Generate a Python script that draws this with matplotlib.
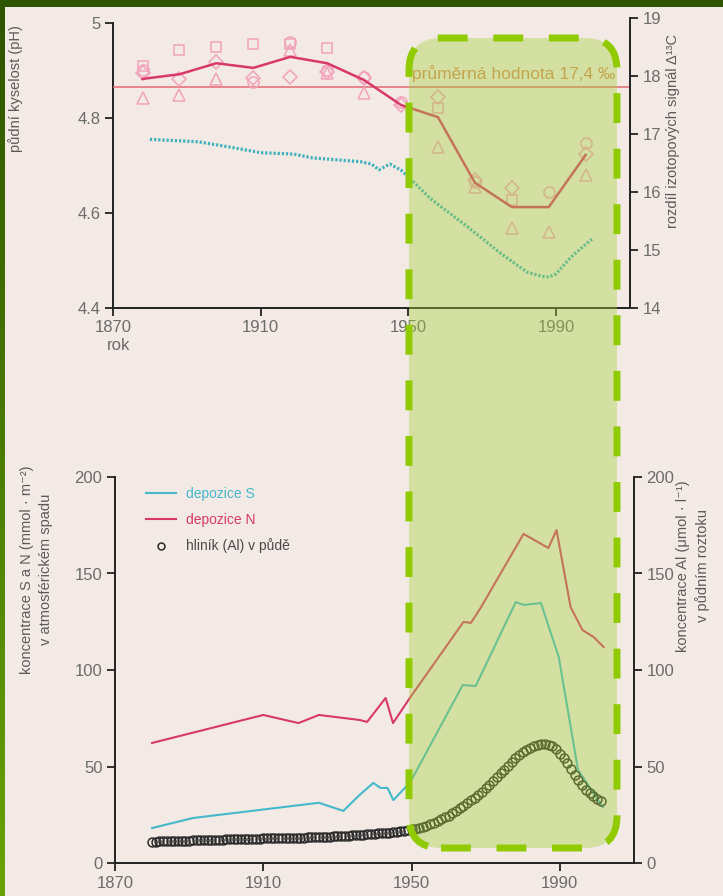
import numpy as np
import matplotlib
matplotlib.use("Agg")
import matplotlib.pyplot as plt
from matplotlib.patches import FancyBboxPatch, Rectangle
from matplotlib.colors import LinearSegmentedColormap

plt.rcParams['font.family'] = ['Liberation Sans', 'DejaVu Sans']

# ---------------- data: top panel ----------------
iso_years = [1878, 1888, 1898, 1908, 1918, 1928, 1938, 1948, 1958, 1968, 1978, 1988, 1998]
iso_mean = [17.95, 18.03, 18.22, 18.14, 18.33, 18.22, 17.93, 17.50, 17.29, 16.16, 15.74, 15.74, 16.64]
nan = float('nan')
iso_square = [18.17, 18.45, 18.50, 18.55, 18.55, 18.48, nan, nan, 17.45, nan, 15.86, nan, nan]
iso_diamond = [18.05, 17.95, 18.24, 17.97, 17.98, 18.07, 17.97, 17.50, 17.64, 16.21, 16.07, nan, 16.66]
iso_triangle = [17.62, 17.67, 17.95, nan, 18.45, 18.05, 17.71, nan, 16.78, 16.09, 15.38, 15.31, 16.29]
iso_circle = [18.10, nan, nan, 17.90, 18.59, 18.10, 17.98, 17.55, nan, 16.17, nan, 16.00, 16.84]
iso_average = 17.81
iso_avg_label = "průměrná hodnota 17,4 ‰"

ph_years = [1880, 1893, 1900, 1910, 1919, 1924, 1937, 1940, 1942, 1945, 1948, 1950,
            1956, 1966, 1975, 1982, 1986, 1988, 1990, 1994, 2000]
ph_values = [4.755, 4.750, 4.741, 4.727, 4.724, 4.716, 4.708, 4.703, 4.691, 4.703, 4.690, 4.676,
             4.630, 4.571, 4.515, 4.476, 4.467, 4.465, 4.472, 4.507, 4.547]

# ---------------- data: bottom panel ----------------
n_years = [1880, 1910, 1919.5, 1925, 1936, 1938, 1943, 1945, 1949.7, 1964, 1966, 1968.6,
           1980.2, 1986.9, 1989.1, 1992.9, 1996.1, 1999.1, 2001.8]
n_values = [62.2, 76.7, 72.5, 76.7, 74.1, 73.1, 85.5, 72.5, 86.0, 124.9, 124.4, 132.1,
            170.5, 163.2, 172.5, 132.6, 120.7, 117.1, 111.9]

s_years = [1880, 1891, 1925, 1931.6, 1936, 1939.7, 1941.6, 1943.5, 1945.1, 1949.7, 1963.8,
           1967.3, 1978.1, 1980.3, 1984.9, 1989.7, 1994.9, 2001.6]
s_values = [18.1, 23.3, 31.2, 27.0, 35.3, 41.5, 38.9, 38.9, 32.6, 42.0, 92.2,
            91.7, 135.2, 133.7, 134.7, 106.7, 48.2, 29.0]

al_years = list(range(1880, 2002))
al_values = [
    11.1, 11.1, 11.2, 11.2, 11.3, 11.3, 11.4, 11.4, 11.5, 11.5,
    11.6, 11.7, 11.7, 11.8, 11.8, 11.9, 12.0, 12.0, 12.1, 12.1,
    12.2, 12.2, 12.3, 12.3, 12.4, 12.4, 12.5, 12.5, 12.6, 12.6,
    12.7, 12.7, 12.8, 12.8, 12.9, 12.9, 13.0, 13.0, 13.1, 13.1,
    13.2, 13.2, 13.3, 13.4, 13.4, 13.5, 13.6, 13.6, 13.7, 13.8,
    13.9, 14.0, 14.1, 14.2, 14.3, 14.4, 14.6, 14.7, 14.9, 15.0,
    15.2, 15.3, 15.5, 15.6, 15.8, 16.0, 16.2, 16.4, 16.7, 17.0,
    17.4, 17.8, 18.3, 18.8, 19.4, 20.1, 20.9, 21.8, 22.8, 23.7,
    24.6, 25.8, 27.0, 28.3, 29.6, 31.0, 32.4, 33.9, 35.4, 37.0,
    38.7, 40.5, 42.4, 44.4, 46.4, 48.4, 50.4, 52.4, 54.3, 56.0,
    57.5, 58.8, 59.8, 60.6, 61.2, 61.5, 61.5, 61.2, 60.5, 59.3,
    56.5, 54.3, 51.6, 48.7, 45.7, 42.8, 40.2, 38.0, 36.2, 34.7,
    33.4, 32.3,
]

x_ticks = [1870, 1910, 1950, 1990]
ph_ticks = [4.4, 4.6, 4.8, 5.0]
ph_ticklabels = ["4.4", "4.6", "4.8", "5"]
iso_ticks = [14, 15, 16, 17, 18, 19]
conc_ticks = [0, 50, 100, 150, 200]

# ---------------- styling ----------------
W, H = 723, 896
BG = '#f3eae5'
TICKC = '#6b6b6b'
LABC = '#5a5a5a'
PINK = '#f2a3bb'
CRIMSON = '#d8386a'
TEAL = '#3db1bd'
CYAN = '#45b8cc'
TICKFS = 12
LABFS = 10.5

fig = plt.figure(figsize=(W / 100, H / 100), dpi=100, facecolor=BG)

def px_rect(l, t, r, b):
    return [l / W, 1 - b / H, (r - l) / W, (b - t) / H]

def style_axis(ax):
    ax.set_facecolor('none')
    ax.tick_params(direction='out', length=6, width=1.3, color='#222222',
                   labelcolor=TICKC, labelsize=TICKFS, pad=3)
    for s in ax.spines.values():
        s.set_linewidth(1.4)
        s.set_color('#222222')

# ---------- top panel ----------
ax1 = fig.add_axes(px_rect(113, 23, 630, 308))
ax1.set_xlim(1870, 2010)
ax1.set_ylim(4.4, 5.0)
style_axis(ax1)
ax1.spines['top'].set_visible(False)
ax1.spines['right'].set_visible(False)
ax1.set_xticks(x_ticks)
ax1.set_yticks(ph_ticks)
ax1.set_yticklabels(ph_ticklabels)
ax1.plot(ph_years, ph_values, color=TEAL, lw=2.3, linestyle=(0, (0.7, 0.6)), zorder=3)
ax1.set_ylabel("půdní kyselost (pH)", color=LABC, fontsize=LABFS)
ax1.yaxis.set_label_coords(-90 / 517, 0.77)
ax1.text(-0.012, -0.13, "rok", transform=ax1.transAxes, color=TICKC, fontsize=TICKFS,
         ha='left', va='center')

ax2 = fig.add_axes(px_rect(113, 18, 630, 308))
ax2.set_xlim(1870, 2010)
ax2.set_ylim(14, 19)
style_axis(ax2)
for k in ['top', 'left', 'bottom']:
    ax2.spines[k].set_visible(False)
ax2.yaxis.tick_right()
ax2.yaxis.set_label_position('right')
ax2.set_xticks([])
ax2.set_yticks(iso_ticks)
ax2.set_ylabel("rozdíl izotopových signál Δ¹³C", color=LABC, fontsize=LABFS)
ax2.yaxis.set_label_coords(1 + 36 / 517, 0.61)

ax2.axhline(iso_average, color='#e26a72', lw=1.1, zorder=2)
ax2.text(1951, iso_average + 0.08, iso_avg_label, color='#d8875a', fontsize=12.5,
         ha='left', va='bottom', zorder=6)
mk = dict(linestyle='none', markerfacecolor='none', markeredgecolor=PINK,
          markeredgewidth=1.1, zorder=3)
ax2.plot(iso_years, iso_square, marker='s', markersize=7.5, **mk)
ax2.plot(iso_years, iso_diamond, marker='D', markersize=7.5, **mk)
ax2.plot(iso_years, iso_triangle, marker='^', markersize=9, **mk)
ax2.plot(iso_years, iso_circle, marker='o', markersize=8, **mk)
ax2.plot(iso_years, iso_mean, color=CRIMSON, lw=1.8, zorder=4)

# ---------- bottom panel ----------
ax3 = fig.add_axes(px_rect(115, 477, 634, 863))
ax3.set_xlim(1870, 2010)
ax3.set_ylim(0, 200)
style_axis(ax3)
ax3.spines['top'].set_visible(False)
ax3.spines['right'].set_visible(False)
ax3.set_xticks(x_ticks)
ax3.set_yticks(conc_ticks)
ax3.set_ylabel("koncentrace S a N (mmol · m⁻²)\nv atmosférickém spadu", color=LABC,
               fontsize=LABFS, linespacing=1.45)
ax3.yaxis.set_label_coords(-62 / 519, 0.76)

ax4 = ax3.twinx()
ax4.set_ylim(0, 200)
style_axis(ax4)
for k in ['top', 'left', 'bottom']:
    ax4.spines[k].set_visible(False)
ax4.set_yticks(conc_ticks)
ax4.set_ylabel("koncentrace Al (μmol · l⁻¹)\nv půdním roztoku", color=LABC,
               fontsize=LABFS, linespacing=1.45, rotation=90)
ax4.yaxis.set_label_coords(1 + 42 / 519, 0.77)

lS, = ax3.plot(s_years, s_values, color=CYAN, lw=1.5, zorder=3, label="depozice S")
lN, = ax3.plot(n_years, n_values, color=CRIMSON, lw=1.5, zorder=3, label="depozice N")
lA, = ax4.plot(al_years, al_values, linestyle='none', marker='o', markersize=6.4,
               markerfacecolor='none', markeredgecolor='#2a2a2a', markeredgewidth=1.1,
               zorder=3, label="hliník (Al) v půdě")
leg = ax3.legend(handles=[lS, lN, lA], loc='upper left', bbox_to_anchor=(0.035, 1.007),
                 frameon=False, fontsize=10, handlelength=2.2, handletextpad=0.7,
                 labelspacing=0.85, labelcolor=[CYAN, CRIMSON, '#4a4a4a'])
leg.legend_handles[2].set_markersize(5)

# ---------- highlight box ----------
box = FancyBboxPatch((409 / 100, (H - 848) / 100), 208 / 100, 810 / 100,
                     boxstyle="round,pad=0,rounding_size=0.32",
                     transform=fig.dpi_scale_trans,
                     facecolor=(0.65, 0.82, 0.23, 0.40), edgecolor='none', zorder=5)
fig.patches.append(box)
edge = FancyBboxPatch((409 / 100, (H - 848) / 100), 208 / 100, 810 / 100,
                      boxstyle="round,pad=0,rounding_size=0.32",
                      transform=fig.dpi_scale_trans, facecolor='none',
                      edgecolor='#8fcb00', linewidth=5, linestyle=(0, (4.3, 3.7)),
                      capstyle='butt', zorder=6)
fig.patches.append(edge)

# ---------- frame ----------
fig.patches.append(Rectangle((0, 1 - 7 / H), 1, 7 / H, transform=fig.transFigure,
                             facecolor='#2e5400', edgecolor='none', zorder=10))
gax = fig.add_axes([0, 0, 5 / W, 1 - 7 / H])
grad = np.linspace(0, 1, 256).reshape(-1, 1)
cm = LinearSegmentedColormap.from_list('g', ['#2e5400', '#68a400'])
gax.imshow(grad, aspect='auto', cmap=cm, origin='upper')
gax.set_axis_off()

fig.savefig("out.png", dpi=100, facecolor=BG)
